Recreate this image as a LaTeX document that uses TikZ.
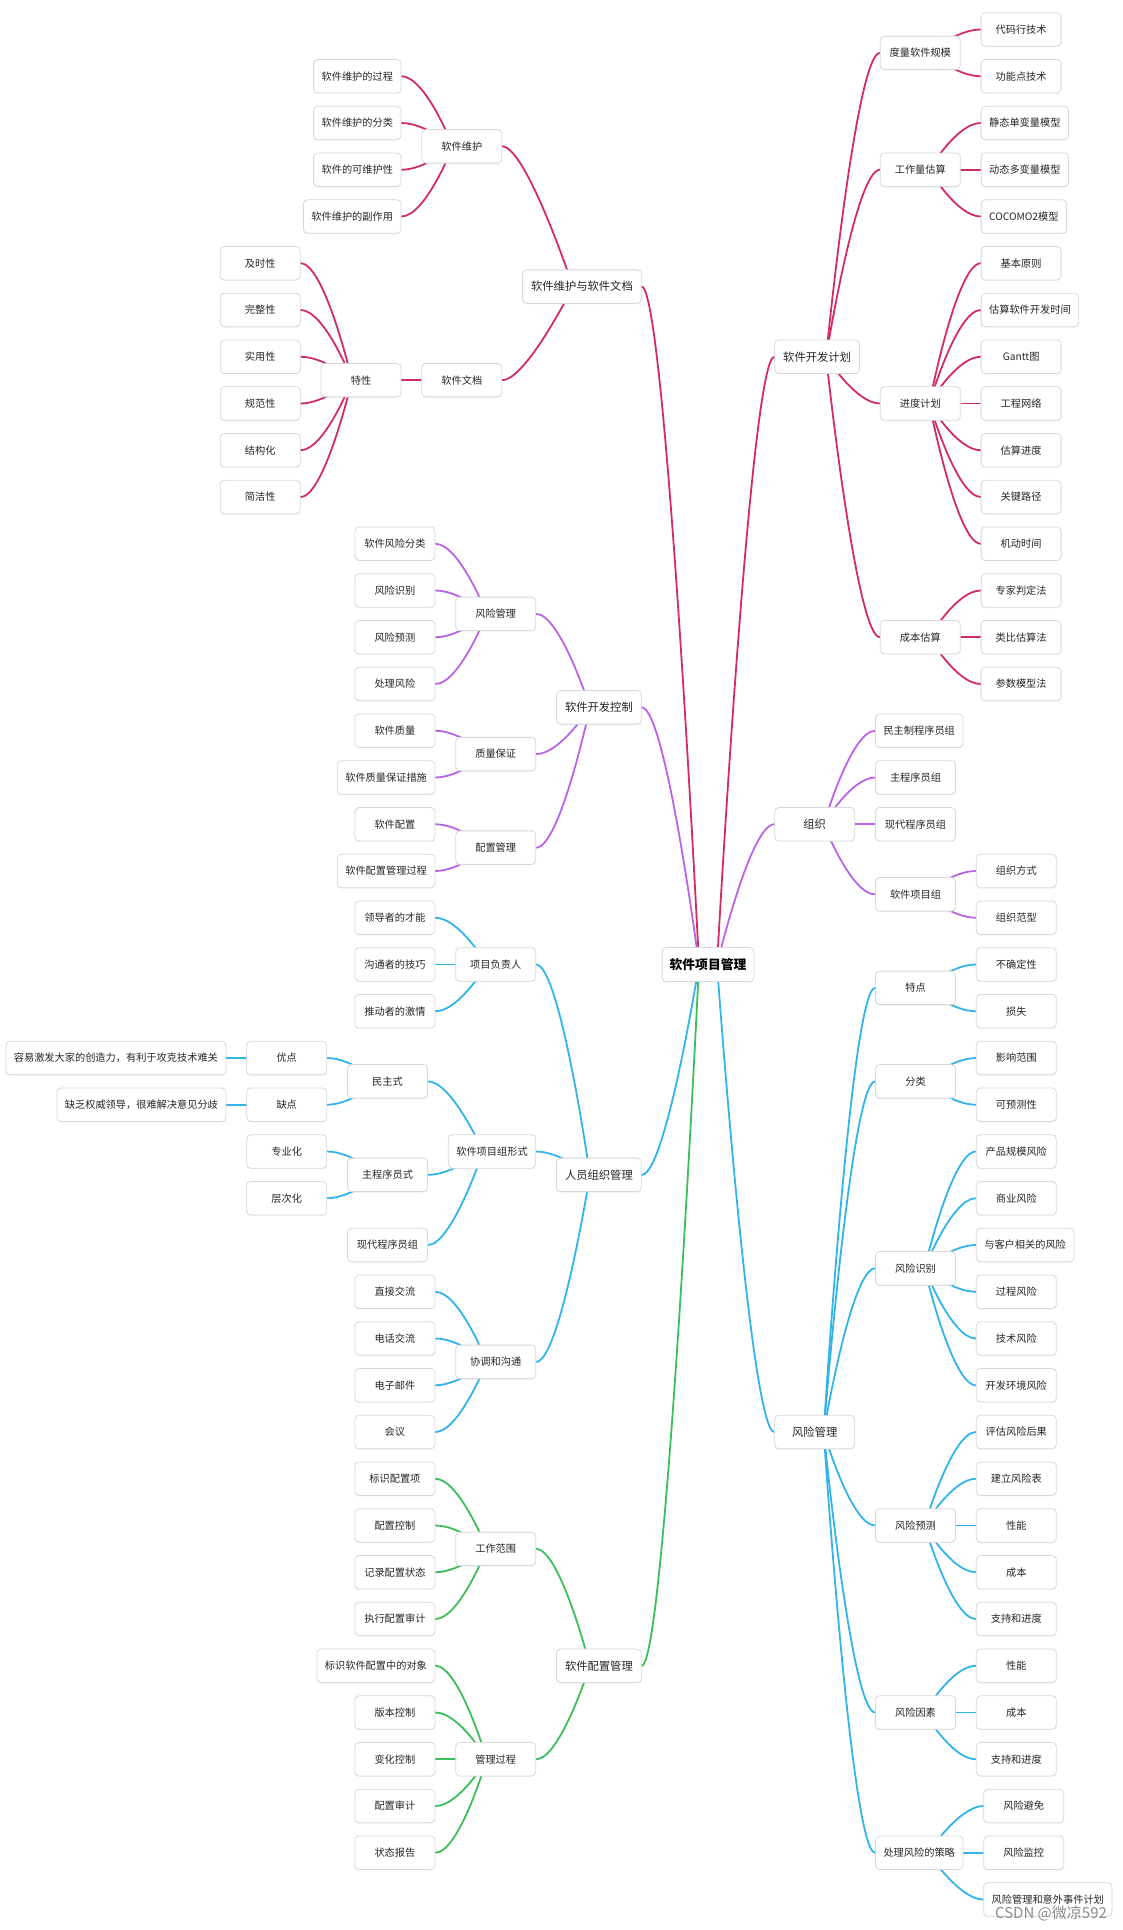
\documentclass[tikz,border=0pt]{standalone}
\usepackage{fontspec}
\setmainfont{Noto Sans CJK SC}
\usetikzlibrary{backgrounds,shadows}
\definecolor{cred}{HTML}{D22D5F}
\definecolor{cpur}{HTML}{B964E6}
\definecolor{cblu}{HTML}{32B4EB}
\definecolor{cgrn}{HTML}{3CBE5A}
\definecolor{boxgray}{HTML}{D8D8D8}
\definecolor{txt}{HTML}{262626}
\tikzset{
  box/.style={draw=boxgray, line width=0.8pt, fill=white, rounded corners=4pt,
    minimum height=33.5pt, minimum width=80pt, inner xsep=8pt, inner ysep=2pt,
    font=\fontsize{10.2}{12}\selectfont, text=txt,
    drop shadow={shadow xshift=0pt, shadow yshift=-1pt, opacity=0.08}},
  lone/.style={box, font=\fontsize{11.3}{13}\selectfont, inner xsep=8.5pt},
  rootbox/.style={box, font=\fontsize{12.8}{15}\selectfont\bfseries, inner xsep=7.5pt, minimum height=34pt, text=black},
  goR/.style={anchor=west, xshift=20pt},
  goL/.style={anchor=east, xshift=-20pt},
  lnk/.style={line width=1.8pt, line cap=round},
}
% #1 style, #2 parent, #3 name, #4 row, #5 text, #6 colour
\newcommand\kidR[6]{\node[#1,goR] (#3) at (#2.east |- 0,#4) {#5};
  \begin{pgfonlayer}{background}\draw[lnk,#6] ([xshift=9pt]#2.center) .. controls ([xshift=9pt]#2.center) and ([xshift=-24pt]#3.west) .. (#3.west);\end{pgfonlayer}}
\newcommand\kidL[6]{\node[#1,goL] (#3) at (#2.west |- 0,#4) {#5};
  \begin{pgfonlayer}{background}\draw[lnk,#6] ([xshift=-9pt]#2.center) .. controls ([xshift=-9pt]#2.center) and ([xshift=24pt]#3.east) .. (#3.east);\end{pgfonlayer}}
\begin{document}
\begin{tikzpicture}[x=1pt, y=-46.75pt]
\useasboundingbox (0pt,0pt) rectangle (1122pt,-1930pt);
\begin{scope}[yshift=-29.5pt]
\node[rootbox] (root) at (708,20) {软件项目管理};
% ---------------- right side ----------------
\kidR{lone}{root}{P}{7}{软件开发计划}{cred}
\kidR{box}{P}{P1}{0.5}{度量软件规模}{cred}
\kidR{box}{P1}{P11}{0}{代码行技术}{cred}
\kidR{box}{P1}{P12}{1}{功能点技术}{cred}
\kidR{box}{P}{P2}{3}{工作量估算}{cred}
\kidR{box}{P2}{P21}{2}{静态单变量模型}{cred}
\kidR{box}{P2}{P22}{3}{动态多变量模型}{cred}
\kidR{box}{P2}{P23}{4}{COCOMO2模型}{cred}
\kidR{box}{P}{P3}{8}{进度计划}{cred}
\kidR{box}{P3}{P31}{5}{基本原则}{cred}
\kidR{box}{P3}{P32}{6}{估算软件开发时间}{cred}
\kidR{box}{P3}{P33}{7}{Gantt图}{cred}
\kidR{box}{P3}{P34}{8}{工程网络}{cred}
\kidR{box}{P3}{P35}{9}{估算进度}{cred}
\kidR{box}{P3}{P36}{10}{关键路径}{cred}
\kidR{box}{P3}{P37}{11}{机动时间}{cred}
\kidR{box}{P}{P4}{13}{成本估算}{cred}
\kidR{box}{P4}{P41}{12}{专家判定法}{cred}
\kidR{box}{P4}{P42}{13}{类比估算法}{cred}
\kidR{box}{P4}{P43}{14}{参数模型法}{cred}
\kidR{lone}{root}{O}{17}{组织}{cpur}
\kidR{box}{O}{O1}{15}{民主制程序员组}{cpur}
\kidR{box}{O}{O2}{16}{主程序员组}{cpur}
\kidR{box}{O}{O3}{17}{现代程序员组}{cpur}
\kidR{box}{O}{O4}{18.5}{软件项目组}{cpur}
\kidR{box}{O4}{O41}{18}{组织方式}{cpur}
\kidR{box}{O4}{O42}{19}{组织范型}{cpur}
\kidR{lone}{root}{K}{30}{风险管理}{cblu}
\kidR{box}{K}{K1}{20.5}{特点}{cblu}
\kidR{box}{K1}{K11}{20}{不确定性}{cblu}
\kidR{box}{K1}{K12}{21}{损失}{cblu}
\kidR{box}{K}{K2}{22.5}{分类}{cblu}
\kidR{box}{K2}{K21}{22}{影响范围}{cblu}
\kidR{box}{K2}{K22}{23}{可预测性}{cblu}
\kidR{box}{K}{K3}{26.5}{风险识别}{cblu}
\kidR{box}{K3}{K31}{24}{产品规模风险}{cblu}
\kidR{box}{K3}{K32}{25}{商业风险}{cblu}
\kidR{box}{K3}{K33}{26}{与客户相关的风险}{cblu}
\kidR{box}{K3}{K34}{27}{过程风险}{cblu}
\kidR{box}{K3}{K35}{28}{技术风险}{cblu}
\kidR{box}{K3}{K36}{29}{开发环境风险}{cblu}
\kidR{box}{K}{K4}{32}{风险预测}{cblu}
\kidR{box}{K4}{K41}{30}{评估风险后果}{cblu}
\kidR{box}{K4}{K42}{31}{建立风险表}{cblu}
\kidR{box}{K4}{K43}{32}{性能}{cblu}
\kidR{box}{K4}{K44}{33}{成本}{cblu}
\kidR{box}{K4}{K45}{34}{支持和进度}{cblu}
\kidR{box}{K}{K5}{36}{风险因素}{cblu}
\kidR{box}{K5}{K51}{35}{性能}{cblu}
\kidR{box}{K5}{K52}{36}{成本}{cblu}
\kidR{box}{K5}{K53}{37}{支持和进度}{cblu}
\kidR{box}{K}{K6}{39}{处理风险的策略}{cblu}
\kidR{box}{K6}{K61}{38}{风险避免}{cblu}
\kidR{box}{K6}{K62}{39}{风险监控}{cblu}
\kidR{box}{K6}{K63}{40}{风险管理和意外事件计划}{cblu}
% ---------------- left side ----------------
\kidL{lone}{root}{A}{5.5}{软件维护与软件文档}{cred}
\kidL{box}{A}{A1}{2.5}{软件维护}{cred}
\kidL{box}{A1}{A11}{1}{软件维护的过程}{cred}
\kidL{box}{A1}{A12}{2}{软件维护的分类}{cred}
\kidL{box}{A1}{A13}{3}{软件的可维护性}{cred}
\kidL{box}{A1}{A14}{4}{软件维护的副作用}{cred}
\kidL{box}{A}{A2}{7.5}{软件文档}{cred}
\kidL{box}{A2}{A21}{7.5}{特性}{cred}
\kidL{box}{A21}{A211}{5}{及时性}{cred}
\kidL{box}{A21}{A212}{6}{完整性}{cred}
\kidL{box}{A21}{A213}{7}{实用性}{cred}
\kidL{box}{A21}{A214}{8}{规范性}{cred}
\kidL{box}{A21}{A215}{9}{结构化}{cred}
\kidL{box}{A21}{A216}{10}{简洁性}{cred}
\kidL{lone}{root}{B}{14.5}{软件开发控制}{cpur}
\kidL{box}{B}{B1}{12.5}{风险管理}{cpur}
\kidL{box}{B1}{B11}{11}{软件风险分类}{cpur}
\kidL{box}{B1}{B12}{12}{风险识别}{cpur}
\kidL{box}{B1}{B13}{13}{风险预测}{cpur}
\kidL{box}{B1}{B14}{14}{处理风险}{cpur}
\kidL{box}{B}{B2}{15.5}{质量保证}{cpur}
\kidL{box}{B2}{B21}{15}{软件质量}{cpur}
\kidL{box}{B2}{B22}{16}{软件质量保证措施}{cpur}
\kidL{box}{B}{B3}{17.5}{配置管理}{cpur}
\kidL{box}{B3}{B31}{17}{软件配置}{cpur}
\kidL{box}{B3}{B32}{18}{软件配置管理过程}{cpur}
\kidL{lone}{root}{C}{24.5}{人员组织管理}{cblu}
\kidL{box}{C}{C1}{20}{项目负责人}{cblu}
\kidL{box}{C1}{C11}{19}{领导者的才能}{cblu}
\kidL{box}{C1}{C12}{20}{沟通者的技巧}{cblu}
\kidL{box}{C1}{C13}{21}{推动者的激情}{cblu}
\kidL{box}{C}{C2}{24}{软件项目组形式}{cblu}
\kidL{box}{C2}{C21}{22.5}{民主式}{cblu}
\kidL{box}{C21}{C211}{22}{优点}{cblu}
\kidL{box}{C211}{C2111}{22}{容易激发大家的创造力，有利于攻克技术难关}{cblu}
\kidL{box}{C21}{C212}{23}{缺点}{cblu}
\kidL{box}{C212}{C2121}{23}{缺乏权威领导，很难解决意见分歧}{cblu}
\kidL{box}{C2}{C22}{24.5}{主程序员式}{cblu}
\kidL{box}{C22}{C221}{24}{专业化}{cblu}
\kidL{box}{C22}{C222}{25}{层次化}{cblu}
\kidL{box}{C2}{C23}{26}{现代程序员组}{cblu}
\kidL{box}{C}{C3}{28.5}{协调和沟通}{cblu}
\kidL{box}{C3}{C31}{27}{直接交流}{cblu}
\kidL{box}{C3}{C32}{28}{电话交流}{cblu}
\kidL{box}{C3}{C33}{29}{电子邮件}{cblu}
\kidL{box}{C3}{C34}{30}{会议}{cblu}
\kidL{lone}{root}{D}{35}{软件配置管理}{cgrn}
\kidL{box}{D}{D1}{32.5}{工作范围}{cgrn}
\kidL{box}{D1}{D11}{31}{标识配置项}{cgrn}
\kidL{box}{D1}{D12}{32}{配置控制}{cgrn}
\kidL{box}{D1}{D13}{33}{记录配置状态}{cgrn}
\kidL{box}{D1}{D14}{34}{执行配置审计}{cgrn}
\kidL{box}{D}{D2}{37}{管理过程}{cgrn}
\kidL{box}{D2}{D21}{35}{标识软件配置中的对象}{cgrn}
\kidL{box}{D2}{D22}{36}{版本控制}{cgrn}
\kidL{box}{D2}{D23}{37}{变化控制}{cgrn}
\kidL{box}{D2}{D24}{38}{配置审计}{cgrn}
\kidL{box}{D2}{D25}{39}{状态报告}{cgrn}
\end{scope}
\node[font=\fontsize{15}{15}\selectfont, text=black!50, opacity=0.9] (wm) at (1051pt,-1913pt) {CSDN @微凉592};
\end{tikzpicture}
\end{document}
